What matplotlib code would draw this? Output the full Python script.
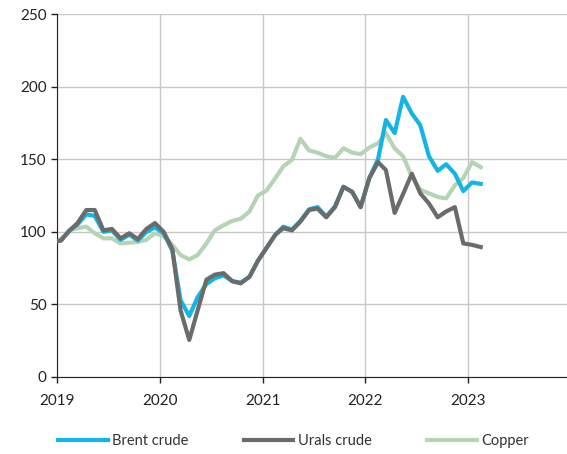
import numpy as np
import pandas as pd
import matplotlib
matplotlib.use('Agg')
import matplotlib.pyplot as plt
import matplotlib.dates as mdates

plt.rcParams['font.family'] = ['Lato', 'DejaVu Sans']

# monthly averages, plotted mid-month, Dec 2018 .. Feb 2023
months = pd.date_range('2018-12-01', '2023-02-01', freq='MS') + pd.Timedelta(days=14)

brent = [93, 94, 101, 105, 112, 111, 100, 101, 94.5, 98, 94, 100, 103,
         99, 87, 53, 42, 55, 64, 68, 70, 66, 65, 69, 80,
         89, 98, 103.5, 101.5, 107.5, 115.5, 117, 110.5, 117.5, 131, 127.5, 117,
         137, 150, 177, 168, 193, 181.5, 173.5, 152, 142, 146.5, 140, 128,
         134, 133]
urals = [93, 94, 101, 106, 115, 115, 101, 102, 95.5, 99, 95, 102, 106,
         100, 88, 46, 25.5, 46, 67, 70.5, 71.5, 66, 64.5, 69, 80,
         89, 98, 102.5, 101, 107, 115, 116, 110, 117, 131, 127.5, 117,
         137, 148, 142.5, 113, 126, 140, 126.5, 119.5, 110, 114, 117, 92,
         91, 89.5]
copper = [93, 95, 101, 102.5, 103.5, 99, 95.5, 95.5, 92, 92.5, 93, 94.5, 99,
          97, 91, 84, 81, 84, 92, 101, 104.5, 107.5, 109, 114, 125,
          128.5, 137, 145, 149.5, 164, 156, 154.5, 152, 151, 157.5, 154.5, 153.5,
          158, 161, 168, 157.5, 152, 138, 129, 126.5, 124, 123, 132, 137,
          148, 144.5]

labels = ['Brent crude', 'Urals crude', 'Copper']
colors = ['#12b5e6', '#6b6b6b', '#b5d4b5']
yticks = [0, 50, 100, 150, 200, 250]

fig = plt.figure(figsize=(5.67, 4.54), dpi=100)
ax = fig.add_axes([57 / 567, 1 - 377 / 454, 1 - 57 / 567, (377 - 14) / 454])

handles = []
for s, lab, c, z in zip([brent, urals, copper], labels, colors, [3, 4, 2]):
    h, = ax.plot(months, s, color=c, lw=3.0, label=lab, zorder=z)
    handles.append(h)

x0 = mdates.date2num(pd.Timestamp('2019-01-01'))
yr = mdates.date2num(pd.Timestamp('2020-01-01')) - x0
ax.set_xlim(x0, x0 + yr * (567 - 57) / 102.7)
ax.set_ylim(0, 250)
ax.set_yticks(yticks)
ax.xaxis.set_major_locator(mdates.YearLocator())
ax.xaxis.set_major_formatter(mdates.DateFormatter('%Y'))

ax.grid(True, color='#c8c8c8', lw=1.0, zorder=0)
ax.set_axisbelow(True)
for sp in ['top', 'right']:
    ax.spines[sp].set_visible(False)
ax.spines['left'].set_color('#222222')
ax.spines['bottom'].set_color('#222222')
ax.tick_params(axis='both', colors='#222222', labelsize=11, length=4, width=1)
ax.tick_params(axis='x', pad=8)

fig.legend(handles=handles, loc='center left', bbox_to_anchor=(58 / 567, 1 - 441 / 454),
           ncol=3, frameon=False, fontsize=10.5, handlelength=3.4,
           handletextpad=0.3, columnspacing=3.8, borderpad=0, borderaxespad=0,
           labelcolor='#333333')

fig.savefig('out.png', dpi=100)
